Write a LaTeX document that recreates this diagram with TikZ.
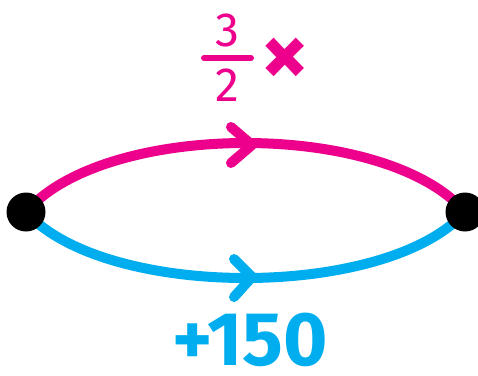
\documentclass[tikz,border=0pt]{standalone}
\usepackage{fontspec}
\setmainfont{Fira Sans}
\definecolor{mag}{HTML}{EC008C}
\definecolor{cyanb}{HTML}{00AEEF}
\begin{document}
\begin{tikzpicture}[x=1pt,y=-1pt,
  dot/.style={circle,fill=black,inner sep=0pt,minimum size=39pt},
  arc/.style={line width=10pt},
  chev/.style={line width=10pt,line cap=round,line join=round},
  lab/.style={inner sep=0pt,anchor=center}]
\useasboundingbox (0,0) rectangle (478,375);
\coordinate (Lc) at (26,212);
\coordinate (Rc) at (465,212);
% arcs
\draw[arc,mag] (Lc) .. controls (105,120) and (386,120) .. (Rc);
\draw[arc,cyanb] (Lc) .. controls (105,300) and (386,300) .. (Rc);
\node[dot] (L) at (Lc) {};
\node[dot] (R) at (Rc) {};
% arrowheads
\coordinate (mt) at (252,145);
\coordinate (ma1) at (231,127);
\coordinate (ma2) at (231,163);
\draw[chev,mag] (ma1) -- (mt) -- (ma2);
\coordinate (bt) at (252,277);
\coordinate (ba1) at (234,259);
\coordinate (ba2) at (234,297);
\draw[chev,cyanb] (ba1) -- (bt) -- (ba2);
% labels
\node[lab,text=mag,font=\fontsize{48}{48}\selectfont] (n3) at (227,30) {3};
\coordinate (fb1) at (204,58);
\coordinate (fb2) at (251,58);
\draw[mag,line width=6pt,line cap=round] (fb1) -- (fb2);
\node[lab,text=mag,font=\fontsize{48}{48}\selectfont] (n2) at (227,85) {2};
\node[lab,text=mag,font=\bfseries\fontsize{95}{95}\selectfont] (x) at (285,62) {×};
\node[lab,text=cyanb,font=\bfseries\fontsize{76}{76}\selectfont] (p150) at (250,340) {+150};
\end{tikzpicture}
\end{document}
